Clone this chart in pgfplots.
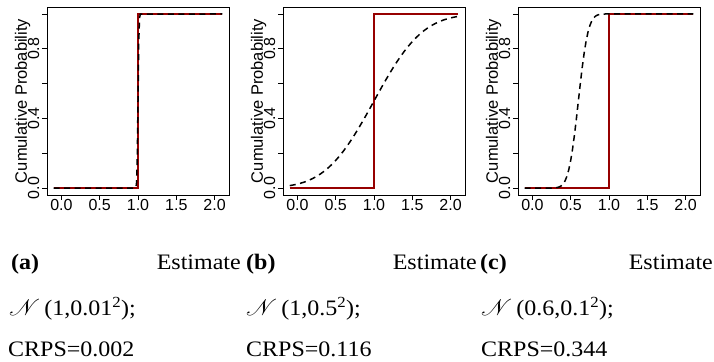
\documentclass[border=0pt]{standalone}
\usepackage{pgfplots}
\pgfplotsset{compat=1.18}
\usepackage{graphicx}
\usepackage{fontspec}
\usepackage{mathrsfs}
\setmainfont{Liberation Serif}
\newfontfamily\plotfont{Liberation Sans}
\definecolor{rdark}{RGB}{150,0,0}
\newcommand\capfont{\fontsize{24bp}{24bp}\selectfont}
\newcommand\captxt[1]{\capfont\scalebox{1}[0.92]{#1}}

\pgfplotsset{
  crpsaxis/.style={
    scale only axis, width=182bp, height=188bp,
    xmin=-0.188, xmax=2.188, ymin=-0.04, ymax=1.04,
    axis line style={line width=0.9bp, black},
    tick align=outside, major tick length=5bp,
    major tick style={line width=0.9bp, black},
    xtick pos=bottom, ytick pos=left,
    xtick={0,0.5,1,1.5,2}, xticklabels={0.0,0.5,1.0,1.5,2.0},
    ytick={0,0.2,0.4,0.6,0.8,1}, yticklabels={0.0,,0.4,,0.8,},
    tick label style={font=\plotfont\fontsize{16bp}{16bp}\selectfont, inner sep=0pt},
    xticklabel style={anchor=north, yshift=1bp},
    yticklabel style={xshift=-2.5bp, rotate=90, anchor=south},
    ylabel={Cumulative Probability},
    ylabel style={font=\plotfont\fontsize{16.5bp}{16.5bp}\selectfont, at={(axis description cs:-0.091,0.5)}, anchor=south, inner sep=0pt},
  },
  redstep/.style={rdark, line width=1.8bp},
  dashcdf/.style={black, line width=1.5bp, dash pattern=on 6bp off 4.5bp},
}

\begin{document}
\begin{tikzpicture}
\useasboundingbox (0,0) rectangle (714bp,362bp);

% (a)
\begin{axis}[crpsaxis, at={(47bp,167bp)}]
\addplot[redstep] coordinates {(-0.1,0) (1,0) (1,1) (2.1,1)};
\addplot[dashcdf] coordinates {(-0.1,0) (0.97,0) (0.98,0.0228) (0.99,0.1587) (1.0,0.5) (1.01,0.8413) (1.02,0.9772) (1.03,0.9987) (2.1,1)};
\end{axis}

% (b)
\begin{axis}[crpsaxis, at={(283bp,167bp)}]
\addplot[redstep] coordinates {(-0.1,0) (1,0) (1,1) (2.1,1)};
\addplot[dashcdf] coordinates {
(-0.10,0.0139) (-0.05,0.0179) (0.00,0.0228) (0.05,0.0287) (0.10,0.0359) (0.15,0.0446)
(0.20,0.0548) (0.25,0.0668) (0.30,0.0808) (0.35,0.0968) (0.40,0.1151) (0.45,0.1357)
(0.50,0.1587) (0.55,0.1841) (0.60,0.2119) (0.65,0.2420) (0.70,0.2743) (0.75,0.3085)
(0.80,0.3446) (0.85,0.3821) (0.90,0.4207) (0.95,0.4602) (1.00,0.5000) (1.05,0.5398)
(1.10,0.5793) (1.15,0.6179) (1.20,0.6554) (1.25,0.6915) (1.30,0.7257) (1.35,0.7580)
(1.40,0.7881) (1.45,0.8159) (1.50,0.8413) (1.55,0.8643) (1.60,0.8849) (1.65,0.9032)
(1.70,0.9192) (1.75,0.9332) (1.80,0.9452) (1.85,0.9554) (1.90,0.9641) (1.95,0.9713)
(2.00,0.9772) (2.05,0.9821) (2.10,0.9861)};
\end{axis}

% (c)
\begin{axis}[crpsaxis, at={(518bp,167bp)}]
\addplot[redstep] coordinates {(-0.1,0) (1,0) (1,1) (2.1,1)};
\addplot[dashcdf] coordinates {
(-0.1,0) (0.25,0.0002) (0.275,0.0006) (0.3,0.0013) (0.325,0.0030) (0.35,0.0062)
(0.375,0.0122) (0.4,0.0228) (0.425,0.0401) (0.45,0.0668) (0.475,0.1056) (0.5,0.1587)
(0.525,0.2266) (0.55,0.3085) (0.575,0.4013) (0.6,0.5) (0.625,0.5987) (0.65,0.6915)
(0.675,0.7734) (0.7,0.8413) (0.725,0.8944) (0.75,0.9332) (0.775,0.9599) (0.8,0.9772)
(0.825,0.9878) (0.85,0.9938) (0.875,0.9970) (0.9,0.9987) (0.925,0.9994) (0.95,0.9998) (2.1,1)};
\end{axis}

% captions
\node[anchor=base west, inner sep=0pt] at (11bp,92bp) {\captxt{\textbf{(a)}}};
\node[anchor=base east, inner sep=0pt] at (241bp,92bp) {\captxt{Estimate}};
\node[anchor=base west, inner sep=0pt] at (9bp,46bp) {\captxt{$\mathscr{N}$\,(1,0.01\textsuperscript{2});}};
\node[anchor=base west, inner sep=0pt] at (8bp,6bp) {\captxt{CRPS=0.002}};

\node[anchor=base west, inner sep=0pt] at (246bp,92bp) {\captxt{\textbf{(b)}}};
\node[anchor=base east, inner sep=0pt] at (477bp,92bp) {\captxt{Estimate}};
\node[anchor=base west, inner sep=0pt] at (246bp,46bp) {\captxt{$\mathscr{N}$\,(1,0.5\textsuperscript{2});}};
\node[anchor=base west, inner sep=0pt] at (246bp,6bp) {\captxt{CRPS=0.116}};

\node[anchor=base west, inner sep=0pt] at (480bp,92bp) {\captxt{\textbf{(c)}}};
\node[anchor=base east, inner sep=0pt] at (713bp,92bp) {\captxt{Estimate}};
\node[anchor=base west, inner sep=0pt] at (481bp,46bp) {\captxt{$\mathscr{N}$\,(0.6,0.1\textsuperscript{2});}};
\node[anchor=base west, inner sep=0pt] at (481bp,6bp) {\captxt{CRPS=0.344}};
\end{tikzpicture}
\end{document}
